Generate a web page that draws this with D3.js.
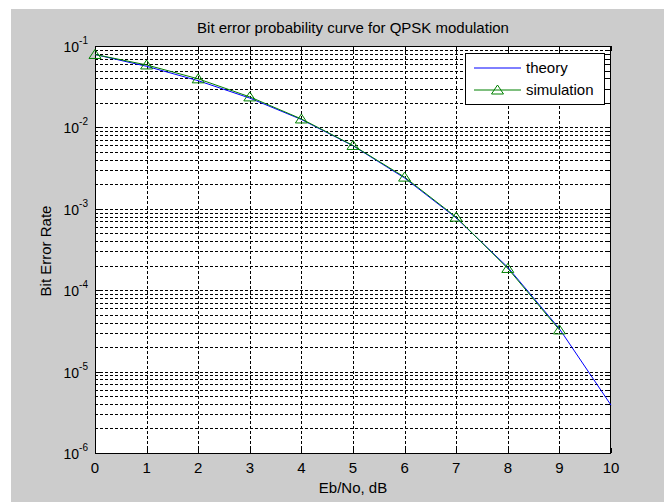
<!DOCTYPE html>
<html lang="en">
<head>
  <meta charset="UTF-8">
  <title>Bit error probability curve for QPSK modulation</title>
  <script src="https://cdnjs.cloudflare.com/ajax/libs/d3/7.8.5/d3.min.js"></script>
  <style>
    body { margin: 0; background: #fff; }
    text { font-family: "Liberation Sans", Arial, sans-serif; fill: #000; }
  </style>
</head>
<body>
  <svg width="664" height="502"></svg>
  <script>
    // Eb/No points and BER values
    const ebno = [0, 1, 2, 3, 4, 5, 6, 7, 8, 9, 10];
    const theoryBer = [0.0786, 0.0563, 0.0375, 0.0229, 0.0125, 0.00595, 0.00239, 0.000773, 0.000191, 3.36e-5, 3.87e-6];
    const simEbno = [0, 1, 2, 3, 4, 5, 6, 7, 8, 9];
    const simBer = [0.0787, 0.0585, 0.0395, 0.0237, 0.0127, 0.0060, 0.00245, 0.00079, 0.000185, 3.25e-5];
    const xTicks = [0, 1, 2, 3, 4, 5, 6, 7, 8, 9, 10];
    const yTickExps = [-1, -2, -3, -4, -5, -6];

    const svg = d3.select("svg");
    const width = +svg.attr("width");
    const height = +svg.attr("height");

    // figure background (MATLAB grey)
    svg.append("rect")
      .attr("x", 11).attr("y", 9)
      .attr("width", width - 11).attr("height", height - 9)
      .attr("fill", "#cccccc");

    const pLeft = 95, pRight = 611, pTop = 46, pBottom = 453;

    const x = d3.scaleLinear().domain([0, 10]).range([pLeft, pRight]);
    const y = d3.scaleLog().domain([1e-6, 1e-1]).range([pBottom, pTop]);

    svg.append("rect")
      .attr("x", pLeft).attr("y", pTop)
      .attr("width", pRight - pLeft).attr("height", pBottom - pTop)
      .attr("fill", "#fff");

    const grid = svg.append("g")
      .attr("stroke", "#000")
      .attr("stroke-dasharray", "3,2")
      .attr("shape-rendering", "crispEdges");

    // horizontal grid, major and minor
    const yGrid = y.ticks().filter(v => v > 1e-6 && v < 1e-1);
    grid.selectAll("line.h")
      .data(yGrid)
      .enter().append("line")
      .attr("x1", pLeft).attr("x2", pRight)
      .attr("y1", d => Math.round(y(d)) + 0.5)
      .attr("y2", d => Math.round(y(d)) + 0.5);

    // vertical grid
    grid.selectAll("line.v")
      .data(xTicks.filter(d => d > 0 && d < 10))
      .enter().append("line")
      .attr("y1", pTop).attr("y2", pBottom)
      .attr("x1", d => Math.round(x(d)) + 0.5)
      .attr("x2", d => Math.round(x(d)) + 0.5);

    // tick marks on all four sides
    const ticks = svg.append("g")
      .attr("stroke", "#000")
      .attr("shape-rendering", "crispEdges");

    y.ticks().forEach(v => {
      const major = Math.abs(Math.log10(v) - Math.round(Math.log10(v))) < 1e-9;
      const len = major ? 5 : 3;
      const yy = Math.round(y(v)) + 0.5;
      ticks.append("line").attr("x1", pLeft).attr("x2", pLeft + len).attr("y1", yy).attr("y2", yy);
      ticks.append("line").attr("x1", pRight - len).attr("x2", pRight).attr("y1", yy).attr("y2", yy);
    });
    xTicks.forEach(t => {
      const xx = Math.round(x(t)) + 0.5;
      ticks.append("line").attr("x1", xx).attr("x2", xx).attr("y1", pBottom).attr("y2", pBottom - 5);
      ticks.append("line").attr("x1", xx).attr("x2", xx).attr("y1", pTop).attr("y2", pTop + 5);
    });

    // axes box
    svg.append("rect")
      .attr("x", pLeft + 0.5).attr("y", pTop + 0.5)
      .attr("width", pRight - pLeft - 1).attr("height", pBottom - pTop)
      .attr("fill", "none")
      .attr("stroke", "#000")
      .attr("shape-rendering", "crispEdges");

    // x tick labels
    svg.append("g").selectAll("text")
      .data(xTicks)
      .enter().append("text")
      .attr("x", d => x(d))
      .attr("y", pBottom + 20)
      .attr("text-anchor", "middle")
      .attr("font-size", 15)
      .text(d => d);

    // y tick labels 10^k
    const yLab = svg.append("g").selectAll("text")
      .data(yTickExps)
      .enter().append("text")
      .attr("x", pLeft - 7)
      .attr("y", d => y(Math.pow(10, d)) + 6)
      .attr("text-anchor", "end")
      .attr("font-size", 14);
    yLab.append("tspan").text("10");
    yLab.append("tspan")
      .attr("dy", -8)
      .attr("font-size", 10)
      .text(d => "-" + Math.abs(d));

    // lines
    const line = d3.line().x(d => x(d[0])).y(d => y(d[1]));

    svg.append("path")
      .datum(ebno.map((e, i) => [e, theoryBer[i]]))
      .attr("fill", "none")
      .attr("stroke", "#0000ff")
      .attr("stroke-width", 1)
      .attr("d", line);

    const simPts = simEbno.map((e, i) => [e, simBer[i]]);
    svg.append("path")
      .datum(simPts)
      .attr("fill", "none")
      .attr("stroke", "#008000")
      .attr("stroke-width", 1)
      .attr("d", line);

    const tri = "M0,-5L6,4L-6,4Z";
    svg.append("g").selectAll("path")
      .data(simPts)
      .enter().append("path")
      .attr("transform", d => `translate(${x(d[0])},${y(d[1])})`)
      .attr("d", tri)
      .attr("fill", "none")
      .attr("stroke", "#008000")
      .attr("stroke-width", 1);

    // title and axis labels
    svg.append("text")
      .attr("x", (pLeft + pRight) / 2)
      .attr("y", 33)
      .attr("text-anchor", "middle")
      .attr("font-size", 15)
      .text("Bit error probability curve for QPSK modulation");

    svg.append("text")
      .attr("x", (pLeft + pRight) / 2)
      .attr("y", 493)
      .attr("text-anchor", "middle")
      .attr("font-size", 15)
      .text("Eb/No, dB");

    svg.append("text")
      .attr("transform", "translate(51,251) rotate(-90)")
      .attr("text-anchor", "middle")
      .attr("font-size", 15)
      .text("Bit Error Rate");

    // legend
    const lg = svg.append("g");
    lg.append("rect")
      .attr("x", 465.5).attr("y", 53.5)
      .attr("width", 139).attr("height", 51)
      .attr("fill", "#fff")
      .attr("stroke", "#000")
      .attr("shape-rendering", "crispEdges");
    lg.append("line")
      .attr("x1", 474).attr("x2", 521).attr("y1", 68).attr("y2", 68)
      .attr("stroke", "#0000ff");
    lg.append("text")
      .attr("x", 526).attr("y", 73)
      .attr("font-size", 15)
      .text("theory");
    lg.append("line")
      .attr("x1", 474).attr("x2", 521).attr("y1", 90).attr("y2", 90)
      .attr("stroke", "#008000");
    lg.append("path")
      .attr("transform", "translate(497.5,90)")
      .attr("d", tri)
      .attr("fill", "none")
      .attr("stroke", "#008000");
    lg.append("text")
      .attr("x", 526).attr("y", 95)
      .attr("font-size", 15)
      .text("simulation");
  </script>
</body>
</html>
